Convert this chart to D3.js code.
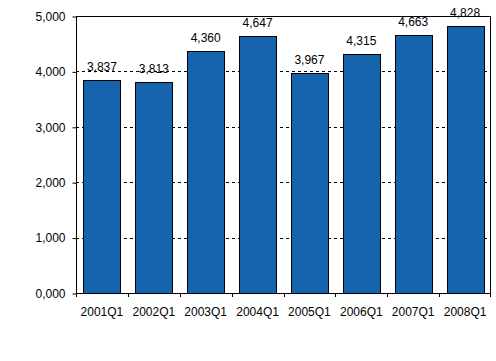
<!DOCTYPE html>
<html>
<head>
<meta charset="utf-8">
<script src="https://cdn.jsdelivr.net/npm/d3@7/dist/d3.min.js"></script>
<style>
html,body{margin:0;padding:0;background:#fff;}
svg{display:block;}
text{font-family:"Liberation Sans",Arial,sans-serif;font-size:12px;fill:#000;}
</style>
</head>
<body>
<svg id="chart" width="496" height="361"></svg>
<script>
const categories = ["2001Q1","2002Q1","2003Q1","2004Q1","2005Q1","2006Q1","2007Q1","2008Q1"];
const values = [3837, 3813, 4360, 4647, 3967, 4315, 4663, 4828];
const valueLabels = ["3,837","3,813","4,360","4,647","3,967","4,315","4,663","4,828"];
const yTicks = [0, 1000, 2000, 3000, 4000, 5000];
const yTickLabels = ["0,000","1,000","2,000","3,000","4,000","5,000"];

const svg = d3.select("#chart");
const L = 76, R = 491, T = 16, B = 293;

const x = d3.scaleBand().domain(categories).range([L, R]).paddingInner(0.285).paddingOuter(0.1425);
const xb = d3.scaleBand().domain(categories).range([L, R]).padding(0);
const y = d3.scaleLinear().domain([0, 5000]).range([B, T]);

// gridlines
svg.append("g").selectAll("line").data(yTicks.filter(d => d > 0 && d < 5000)).join("line")
  .attr("x1", L).attr("x2", R)
  .attr("y1", d => Math.round(y(d)) + 0.5).attr("y2", d => Math.round(y(d)) + 0.5)
  .attr("stroke", "#000").attr("stroke-width", 1).attr("stroke-dasharray", "3,3");

// bars
svg.append("g").selectAll("rect").data(values).join("rect")
  .attr("x", (d, i) => Math.round(x(categories[i])) + 0.5)
  .attr("width", Math.round(x.bandwidth()))
  .attr("y", d => Math.round(y(d)) + 0.5)
  .attr("height", d => B - Math.round(y(d)))
  .attr("fill", "#1764ae").attr("stroke", "#000").attr("stroke-width", 1);

// frame
svg.append("rect").attr("x", L + 0.5).attr("y", T + 0.5).attr("width", R - L - 1).attr("height", B - T)
  .attr("fill", "none").attr("stroke", "#000").attr("stroke-width", 1);

// y axis
const yAxis = d3.axisLeft(y).tickValues(yTicks).tickSize(4).tickPadding(7)
  .tickFormat((d, i) => yTickLabels[i]);
const gy = svg.append("g").attr("transform", `translate(${L + 0.5},0.5)`).call(yAxis);
gy.select(".domain").remove();
gy.selectAll("line").attr("stroke", "#000");
gy.selectAll("text").attr("font-family", '"Liberation Sans",Arial,sans-serif').attr("font-size", 12).attr("fill", "#000");

// x axis ticks at boundaries
const bounds = categories.map(c => xb(c)).concat([R - 1]);
svg.append("g").selectAll("line").data(bounds).join("line")
  .attr("x1", d => Math.round(d) + 0.5).attr("x2", d => Math.round(d) + 0.5)
  .attr("y1", B).attr("y2", B + 4).attr("stroke", "#000");
svg.append("g").selectAll("text").data(categories).join("text")
  .attr("x", d => xb(d) + xb.bandwidth() / 2)
  .attr("y", 316)
  .attr("text-anchor", "middle")
  .text(d => d);

// value labels
svg.append("g").selectAll("text").data(values).join("text")
  .attr("x", (d, i) => x(categories[i]) + x.bandwidth() / 2)
  .attr("y", d => y(d) - 9)
  .attr("text-anchor", "middle")
  .text((d, i) => valueLabels[i]);
</script>
</body>
</html>
